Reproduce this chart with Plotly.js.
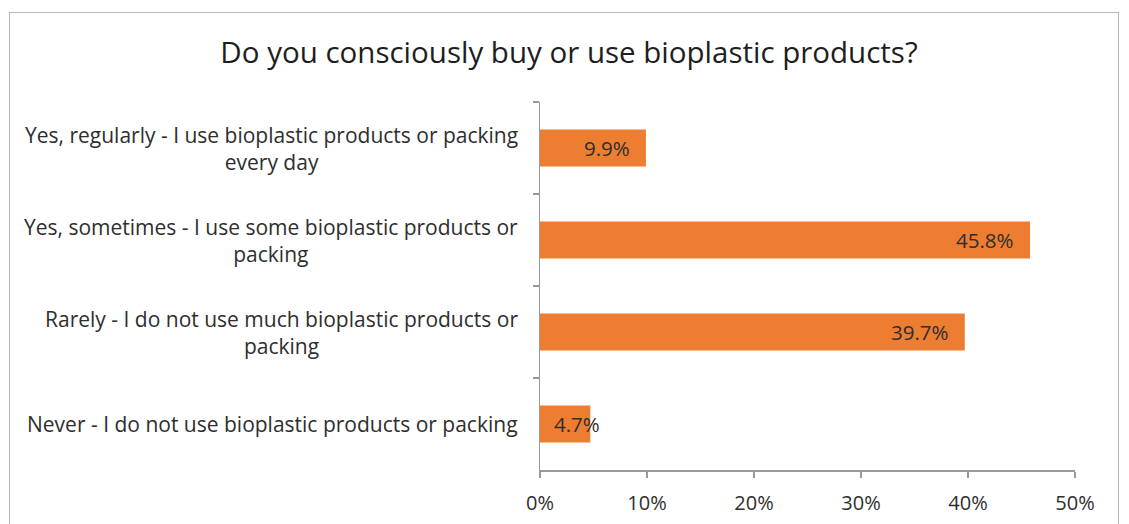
<!DOCTYPE html>
<html><head><meta charset="utf-8">
<script src="https://cdn.plot.ly/plotly-3.0.1.min.js"></script>
<style>
body{margin:0;padding:0;background:#fff;}
#wrap{position:relative;width:1129px;height:524px;}
#chart{width:1129px;height:524px;}
#frame{position:absolute;left:9px;top:12px;width:1108px;height:530px;border:1.5px solid #b5b5b5;pointer-events:none;}
</style></head>
<body>
<div id="wrap"><div id="chart"></div><div id="frame"></div></div>
<script>
const categories = [
  "Yes, regularly - I use bioplastic products or packing<br>every day",
  "Yes, sometimes - I use some bioplastic products or<br>packing",
  "Rarely - I do not use much bioplastic products or<br>packing",
  "Never - I do not use bioplastic products or packing"
];
const values = [9.9, 45.8, 39.7, 4.7];
const valueLabels = ["9.9%", "45.8%", "39.7%", "4.7%"];
const xTickVals = [0, 10, 20, 30, 40, 50];
const xTickText = ["0%", "10%", "20%", "30%", "40%", "50%"];
const titleText = "Do you consciously buy or use bioplastic products?";

const FONT = "'Open Sans', sans-serif";
const ann = [];
categories.forEach((c, i) => {
  ann.push({xref:'paper', yref:'y', x:0, y:c, xanchor:'right', xshift:-20, yanchor:'middle',
    text:c, showarrow:false, align:'center', font:{family:FONT, size:21, color:'#2e2e2e'}});
  ann.push({xref:'x', yref:'y', x:values[i], y:c, xanchor:'right', xshift:i===3?12:-14, yanchor:'middle',
    text:valueLabels[i], showarrow:false, font:{family:FONT, size:20.5, color:'#2e2e2e'}});
});

Plotly.newPlot('chart', [{
  type:'bar', orientation:'h', y:categories, x:values,
  marker:{color:'#ED7D31', line:{width:0}},
  hoverinfo:'none'
}], {
  width:1129, height:524,
  margin:{l:540, r:54, t:102, b:54},
  paper_bgcolor:'#fff', plot_bgcolor:'#fff',
  bargap:0.6,
  title:{text:titleText, x:0.504, xanchor:'center', y:0.9, yanchor:'middle', yref:'container',
    font:{family:FONT, size:29.5, color:'#1e1e1e'}},
  xaxis:{range:[0,50], tickvals:xTickVals, ticktext:xTickText, showgrid:false, zeroline:false,
    showline:true, linecolor:'#999', linewidth:1.5, ticks:'outside', ticklen:6, tickcolor:'#999', tickwidth:1.5,
    ticklabelstandoff:8,
    tickfont:{family:FONT, size:20, color:'#2e2e2e'}, fixedrange:true},
  yaxis:{type:'category', autorange:'reversed', showticklabels:false, showgrid:false, zeroline:false,
    showline:true, linecolor:'#999', linewidth:1.5, ticks:'outside', tickson:'boundaries', ticklen:6,
    tickcolor:'#999', tickwidth:1.5, fixedrange:true},
  annotations:ann,
  showlegend:false
}, {staticPlot:true});
</script>
</body></html>
